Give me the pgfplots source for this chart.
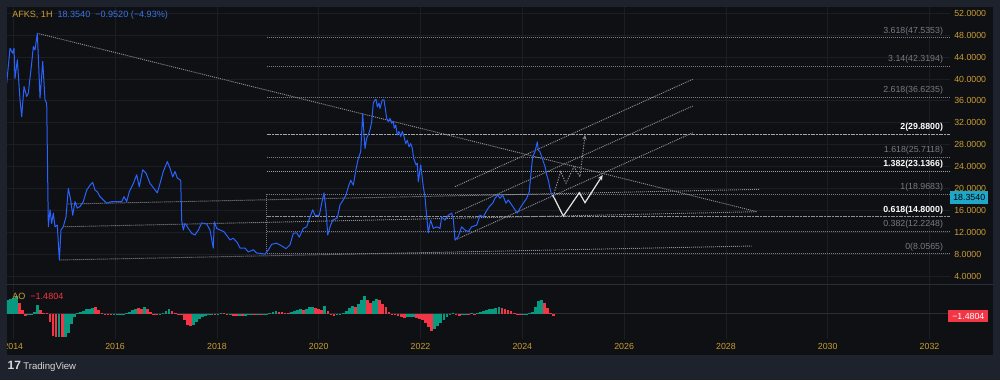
\documentclass[border=0pt]{standalone}
\usepackage{fontspec}
\setmainfont{Liberation Sans}
\usepackage{pgfplots}
\pgfplotsset{compat=1.18}
\usetikzlibrary{arrows.meta}
\definecolor{outer}{HTML}{1E222C}
\definecolor{inner}{HTML}{0F1013}
\definecolor{gridc}{HTML}{1B1E24}
\definecolor{tickc}{HTML}{C99E34}
\definecolor{pblue}{HTML}{2962FF}
\definecolor{hblue}{HTML}{3B73E6}
\definecolor{drawc}{HTML}{8C8F97}
\definecolor{fibc}{HTML}{787B86}
\definecolor{aog}{HTML}{089981}
\definecolor{aor}{HTML}{F23645}
\definecolor{curc}{HTML}{1EA7C8}
\definecolor{sepc}{HTML}{2A2E39}
\definecolor{zeroc}{HTML}{2A2D34}
\newcommand\lab{\fontsize{6.6}{7.5}\selectfont}
\tikzset{dl/.style={drawc, line width=0.7pt, dash pattern=on 0.75pt off 0.75pt},
 fibl/.style={fibc, line width=0.7pt, dash pattern=on 0.75pt off 0.75pt},
 fibb/.style={fill=none,draw=none,anchor=south east, inner sep=0pt, yshift=1.8pt, font=\lab}}
\begin{document}
\begin{tikzpicture}
\fill[outer] (0pt,0pt) rectangle (750pt,285pt);
\fill[inner] (5.25pt,18.75pt) rectangle (744.75pt,279.75pt);
% ---------------- price pane
\begin{axis}[at={(5.25pt,71.625pt)}, anchor=south west, scale only axis,
 width=707.25pt, height=208.125pt,
 xmin=2013.876, xmax=2032.403, ymin=2.45, ymax=53.15,
 axis line style={draw=none}, major tick length=0pt,
 xtick={2014,2016,...,2032}, xticklabels={},
 ytick={4,8,...,52}, yticklabel pos=right,
 yticklabel style={font=\lab, color=tickc, anchor=west, inner sep=0pt, xshift=3pt,
   /pgf/number format/fixed, /pgf/number format/fixed zerofill,
   /pgf/number format/precision=4, /pgf/number format/assume math mode=true},
 grid=major, major grid style={gridc, line width=0.6pt}]
% fib levels
\addplot[fibl] coordinates {(2018.978,47.5353) (2032.403,47.5353)};
\addplot[fibl] coordinates {(2018.978,42.3194) (2032.403,42.3194)};
\addplot[fibl] coordinates {(2018.978,36.6235) (2032.403,36.6235)};
\addplot[color=drawc!80!white, line width=0.7pt, dash pattern=on 1.5pt off 0.5pt] coordinates {(2018.978,29.88) (2032.403,29.88)};
\addplot[fibl] coordinates {(2018.978,25.7118) (2032.403,25.7118)};
\addplot[color=drawc!85!white, line width=0.7pt, dash pattern=on 0.75pt off 0.75pt] coordinates {(2018.978,23.1366) (2032.403,23.1366)};
\addplot[fibl] coordinates {(2018.978,18.9683) (2032.403,18.9683)};
\addplot[color=drawc, line width=0.7pt, dash pattern=on 1.5pt off 0.5pt] coordinates {(2018.978,14.8) (2032.403,14.8)};
\addplot[fibl] coordinates {(2018.978,12.2248) (2032.403,12.2248)};
\addplot[fibl] coordinates {(2018.978,8.0565) (2032.403,8.0565)};
\addplot[fibl] coordinates {(2018.978,18.9683) (2018.978,8.0565)};
% trend lines
\addplot[dl] coordinates {(2014.472,48.35) (2028.611,15.75)};
\addplot[dl] coordinates {(2015.081,17.16) (2028.67,19.84)};
\addplot[dl] coordinates {(2014.982,13.0) (2028.611,15.75)};
\addplot[dl] coordinates {(2014.904,6.93) (2028.507,9.48)};
% channel
\addplot[dl] coordinates {(2022.678,10.58) (2027.348,30.18)};
\addplot[dl] coordinates {(2022.678,15.46) (2027.348,35.06)};
\addplot[dl] coordinates {(2022.678,20.32) (2027.348,39.94)};
% price
\addplot[pblue, line width=0.75pt, line join=round] coordinates {
(2013.870,39.2)(2013.935,45.6)(2013.988,44.7)(2014.014,45.6)(2014.033,40.1)(2014.079,43.5)
(2014.132,36.2)(2014.165,33.1)(2014.210,38.6)(2014.263,36.8)(2014.295,37.4)(2014.361,42.9)
(2014.393,45.9)(2014.426,45.3)(2014.472,48.35)(2014.525,36.5)(2014.578,43.2)(2014.623,36.2)
(2014.656,35.6)(2014.688,13.0)(2014.721,16.1)(2014.754,13.6)(2014.786,15.5)(2014.819,13.0)
(2014.864,13.3)(2014.904,6.9)(2014.937,12.4)(2014.982,13.0)(2015.035,14.8)(2015.081,20.0)
(2015.128,17.9)(2015.167,15.1)(2015.212,17.6)(2015.257,16.4)(2015.310,16.7)(2015.375,17.6)
(2015.442,19.7)(2015.507,20.6)(2015.560,21.1)(2015.605,19.7)(2015.650,19.4)(2015.703,18.5)
(2015.768,17.9)(2015.835,17.3)(2015.933,17.6)(2016.031,17.6)(2016.130,17.6)(2016.175,18.5)
(2016.228,17.6)(2016.279,19.4)(2016.358,20.9)(2016.424,22.5)(2016.475,20.3)(2016.542,23.4)
(2016.607,22.8)(2016.686,20.9)(2016.764,20.0)(2016.829,19.2)(2016.882,20.9)(2016.947,23.1)
(2017.026,24.9)(2017.079,23.7)(2017.132,22.1)(2017.177,23.1)(2017.222,21.9)(2017.289,21.5)
(2017.308,14.2)(2017.340,12.4)(2017.373,13.6)(2017.407,13.2)(2017.438,12.7)(2017.505,11.8)
(2017.570,11.5)(2017.635,12.4)(2017.701,13.7)(2017.800,13.5)(2017.864,12.4)(2017.929,9.1)
(2017.949,13.9)(2017.996,12.7)(2018.061,12.4)(2018.139,12.1)(2018.257,10.6)(2018.322,10.9)
(2018.401,10.1)(2018.454,9.1)(2018.552,9.1)(2018.617,8.4)(2018.715,8.8)(2018.782,8.2)
(2018.880,8.1)(2018.945,8.0)(2019.010,8.75)(2019.077,9.8)(2019.175,10.0)(2019.273,9.5)
(2019.358,9.0)(2019.436,9.7)(2019.501,11.8)(2019.568,11.9)(2019.619,11.1)(2019.697,12.7)
(2019.764,13.0)(2019.829,14.8)(2019.882,16.1)(2019.927,15.1)(2020.012,15.1)(2020.059,17.3)
(2020.104,19.2)(2020.143,16.1)(2020.177,11.5)(2020.222,13.0)(2020.275,14.2)(2020.365,14.6)
(2020.419,17.0)(2020.483,17.9)(2020.536,18.8)(2020.582,20.3)(2020.629,21.5)(2020.680,20.6)
(2020.733,23.5)(2020.778,25.5)(2020.825,26.7)(2020.864,33.7)(2020.890,29.8)(2020.910,27.3)
(2020.943,29.2)(2020.974,29.8)(2021.008,30.7)(2021.041,32.2)(2021.073,35.6)(2021.106,36.2)
(2021.126,36.3)(2021.151,34.9)(2021.185,35.6)(2021.204,34.6)(2021.250,36.2)(2021.283,36.2)
(2021.303,34.9)(2021.336,32.8)(2021.367,32.2)(2021.401,32.8)(2021.434,31.9)(2021.466,32.2)
(2021.485,31.0)(2021.513,31.6)(2021.544,29.8)(2021.578,30.4)(2021.611,29.5)(2021.642,30.4)
(2021.676,29.5)(2021.709,28.2)(2021.741,28.8)(2021.774,27.6)(2021.807,28.2)(2021.839,27.3)
(2021.866,25.5)(2021.912,24.3)(2021.937,24.6)(2021.957,21.2)(2022.004,24.3)(2022.055,20.3)
(2022.088,18.5)(2022.122,14.8)(2022.153,11.9)(2022.200,14.2)(2022.251,12.7)(2022.318,13.0)
(2022.383,12.7)(2022.416,14.8)(2022.481,14.2)(2022.546,15.1)(2022.613,15.5)(2022.644,14.5)
(2022.678,10.6)(2022.743,11.2)(2022.809,13.0)(2022.874,12.4)(2022.939,12.1)(2023.006,13.0)
(2023.104,13.3)(2023.169,15.1)(2023.234,14.8)(2023.287,15.75)(2023.352,16.7)(2023.419,17.3)
(2023.464,18.2)(2023.517,18.8)(2023.562,18.2)(2023.615,18.8)(2023.680,17.3)(2023.725,17.9)
(2023.792,17.0)(2023.856,16.1)(2023.902,15.5)(2023.955,16.4)(2024.020,17.3)(2024.086,18.2)
(2024.137,19.4)(2024.171,22.8)(2024.204,25.8)(2024.249,26.7)(2024.295,28.5)(2024.314,27.0)
(2024.348,26.7)(2024.381,25.8)(2024.413,24.9)(2024.446,24.0)(2024.479,22.5)(2024.511,21.5)
(2024.544,20.0)(2024.577,18.8)(2024.610,18.354)};
% projected paths
\addplot[color=drawc, line width=0.7pt, dash pattern=on 1pt off 1pt, -{Stealth[length=3.5pt,width=3pt]}] coordinates {
(2024.623,19.11)(2024.754,23.06)(2024.858,20.94)(2025.015,23.97)(2025.133,22.14)(2025.232,29.76)};
\addplot[color=white!90!black, line width=0.9pt, -{Stealth[length=4pt,width=3.5pt,open]}] coordinates {
(2024.597,18.8)(2024.806,14.96)(2025.120,19.22)(2025.232,17.4)(2025.580,22.46)};
% fib labels
\node[fibb, text=fibc] at (axis cs:2032.27,47.5353) {3.618(47.5353)};
\node[fibb, text=fibc] at (axis cs:2032.27,42.3194) {3.14(42.3194)};
\node[fibb, text=fibc] at (axis cs:2032.27,36.6235) {2.618(36.6235)};
\node[fibb, text=white] at (axis cs:2032.27,29.88) {\bfseries 2(29.8800)};
\node[fibb, text=fibc] at (axis cs:2032.27,25.7118) {1.618(25.7118)};
\node[fibb, text=white] at (axis cs:2032.27,23.1366) {\bfseries 1.382(23.1366)};
\node[fibb, text=fibc] at (axis cs:2032.27,18.9683) {1(18.9683)};
\node[fibb, text=white] at (axis cs:2032.27,14.8) {\bfseries 0.618(14.8000)};
\node[fibb, text=fibc] at (axis cs:2032.27,12.2248) {0.382(12.2248)};
\node[fibb, text=fibc] at (axis cs:2032.27,8.0565) {0(8.0565)};
\coordinate (cur) at (axis cs:2032.403,18.354);
\end{axis}
\node[fill=curc, text=black, font=\lab, anchor=west, inner xsep=2.3pt, inner ysep=2.2pt] at (cur) {18.3540};
% ---------------- AO pane
\begin{axis}[at={(5.25pt,30.75pt)}, anchor=south west, scale only axis,
 width=707.25pt, height=40.875pt,
 xmin=2013.876, xmax=2032.403, ymin=-25.3, ymax=29.2,
 axis line style={draw=none}, major tick length=0pt,
 xtick={2014,2016,...,2032}, ytick=\empty,
 xmajorgrids, major grid style={gridc, line width=0.6pt},
 xticklabel style={font=\lab, color=tickc, inner sep=0pt, yshift=-3.2pt,
   /pgf/number format/1000 sep={}, /pgf/number format/assume math mode=true}]
\addplot[zeroc, line width=0.6pt] coordinates {(2013.876,0) (2032.403,0)};
\addplot[ycomb, draw=aog, line width=2.05pt] coordinates {
(2013.88,13.3)(2013.94,14.5)(2014.00,16)(2014.06,17.3)(2014.30,-1.5)(2014.36,-0.8)(2014.42,2)(2014.48,8.5)
(2014.90,-23.6)(2015.02,-23.6)(2015.08,-19)(2015.14,-10)(2015.20,-3)(2015.26,0.3)(2015.32,1.5)(2015.38,3)
(2015.44,4.3)(2015.50,5)(2015.56,6)(2015.98,-0.8)(2016.04,-0.6)(2016.10,-0.5)(2016.16,-0.3)(2016.22,0.5)
(2016.28,2)(2016.34,3.7)(2016.40,5)(2016.58,6.5)(2016.88,-0.7)(2016.94,1)(2017.00,3)(2017.06,4.7)
(2017.54,-11.5)(2017.60,-8)(2017.66,-5)(2017.72,-3)(2017.78,-2)(2017.84,-1.3)(2017.90,-1)(2018.02,-0.5)
(2018.08,0.5)(2018.26,-1.3)(2018.44,-2)(2018.56,-2)(2018.62,-1.5)(2018.68,-1)(2018.80,-0.6)(2018.92,-0.3)
(2018.98,0.1)(2019.04,0.8)(2019.10,1.6)(2019.16,2.3)(2019.46,1.5)(2019.52,2.5)(2019.58,3.5)(2019.64,4.5)
(2019.76,5)(2019.82,6.5)(2019.88,6.7)(2020.12,8)(2020.36,-1.5)(2020.42,-0.3)(2020.48,1)(2020.54,3)
(2020.60,5.5)(2020.66,7.3)(2020.78,10)(2020.84,13.5)(2020.90,17.3)(2021.08,13)(2021.14,14.7)(2021.74,-3.5)
(2021.80,-3.2)(2021.86,-3)(2022.28,-15)(2022.34,-12)(2022.40,-9)(2022.46,-6)(2022.52,-3)(2022.58,-0.5)
(2022.64,1)(2022.82,-1)(2022.88,-0.3)(2023.00,0.3)(2023.12,0.3)(2023.18,1.3)(2023.24,2.3)(2023.30,3.5)
(2023.36,4.7)(2023.42,5.2)(2023.48,5.8)(2023.54,6.7)(2024.02,-0.8)(2024.08,-0.3)(2024.14,0.5)(2024.20,2)
(2024.26,7)(2024.32,12.5)(2024.38,14)};
\addplot[ycomb, draw=aor, line width=2.05pt] coordinates {
(2014.12,11)(2014.18,4)(2014.24,-2.7)(2014.54,4)(2014.60,0.5)(2014.66,0.3)(2014.72,-8)(2014.78,-22)
(2014.84,-23.6)(2014.96,-23.6)(2015.62,6.7)(2015.68,4)(2015.74,1)(2015.80,0.2)(2015.86,-0.8)(2015.92,-1)
(2016.46,5.5)(2016.52,5)(2016.64,5)(2016.70,1.5)(2016.76,-0.5)(2016.82,-1)(2017.12,3)(2017.18,0.3)
(2017.24,-0.3)(2017.30,-0.5)(2017.36,-6)(2017.42,-11.5)(2017.48,-12.7)(2017.96,-1.5)(2018.14,0.3)(2018.20,-1)
(2018.32,-2)(2018.38,-2.2)(2018.50,-2.3)(2018.74,-1.2)(2018.86,-0.8)(2019.22,2)(2019.28,1.6)(2019.34,1.2)
(2019.40,1)(2019.70,4)(2019.94,6.2)(2020.00,5.2)(2020.06,4)(2020.18,3)(2020.24,-1.5)(2020.30,-2.7)
(2020.72,7)(2020.96,14)(2021.02,10.7)(2021.20,13.5)(2021.26,10)(2021.32,6.5)(2021.38,2)(2021.44,-0.5)
(2021.50,-1.5)(2021.56,-2.3)(2021.62,-3)(2021.68,-4)(2021.92,-4)(2021.98,-5.5)(2022.04,-6.5)(2022.10,-9)
(2022.16,-13)(2022.22,-17.7)(2022.70,-1)(2022.76,-2)(2022.94,-0.7)(2023.06,-0.5)(2023.60,5.5)(2023.66,4.5)
(2023.72,3.5)(2023.78,2.3)(2023.84,1.2)(2023.90,0.05)(2023.96,-1.5)(2024.44,11)(2024.50,6)(2024.56,1)
(2024.62,-2.7)};
\coordinate (aocur) at (axis cs:2032.403,-2.3);
\end{axis}
\node[fill=aor, text=white, font=\lab, anchor=west, inner xsep=3pt, inner ysep=2.2pt, xshift=-1.5pt] at (aocur) {−1.4804};
% separators and frame cover
\draw[sepc, line width=0.8pt] (5.25pt,71.625pt) -- (744.75pt,71.625pt);
\fill[outer] (0pt,18.75pt) rectangle (5.25pt,40pt);
% header and labels
\node[anchor=west, inner sep=0pt, font=\fontsize{6.8}{8}\selectfont] at (9pt,273.5pt) {\color{tickc}AFKS, 1H\hspace{0.55em}\color{hblue}18.3540\hspace{0.55em}−0.9520 (−4.93\%)};
\node[anchor=west, inner sep=0pt, font=\fontsize{6.8}{8}\selectfont] at (9pt,63pt) {\color{tickc}AO\hspace{0.55em}\color{aor}−1.4804};
\node[anchor=west, inner sep=0pt, font=\fontsize{7.2}{8}\selectfont, text=white!85!black] at (5.5pt,10pt) {{\fontsize{9}{10}\selectfont\bfseries 17}\hspace{0.25em}TradingView};
\pgfresetboundingbox
\path[use as bounding box] (0pt,0pt) rectangle (750pt,285pt);
\end{tikzpicture}
\end{document}
